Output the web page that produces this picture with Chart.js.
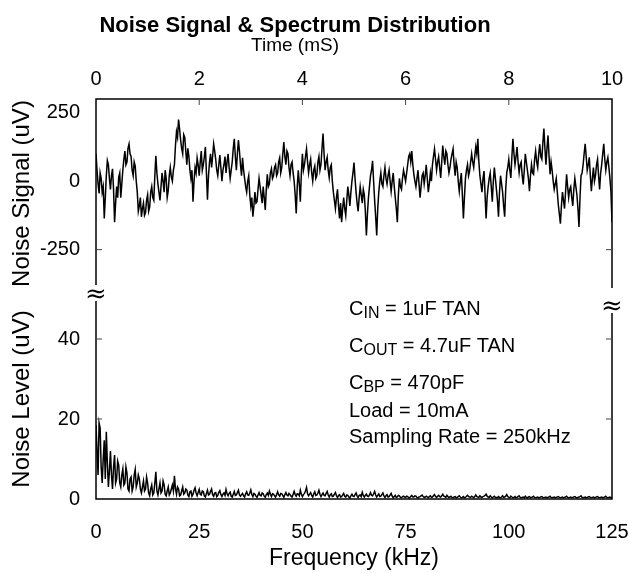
<!DOCTYPE html>
<html>
<head>
<meta charset="utf-8">
<script src="https://cdn.jsdelivr.net/npm/chart.js@4.4.1/dist/chart.umd.min.js"></script>
<style>
  body { margin: 0; background: #fff; }
  #wrap { position: relative; width: 629px; height: 573px; }
  canvas { position: absolute; left: 0; }
  #signal { top: 0; }
  #spectrum { top: 289px; }
  .brk { position: absolute; font: 26px 'DejaVu Serif', serif; line-height: 16px; background: #fff; color: #000; transform: translate(-50%, -50%); }
</style>
</head>
<body>
<div id="wrap">
  <canvas id="signal" width="629" height="288"></canvas>
  <canvas id="spectrum" width="629" height="284"></canvas>
  <span class="brk" style="left:96px;top:293px">≈</span>
  <span class="brk" style="left:612px;top:305px">≈</span>
</div>
<script>
const FONT = "'Liberation Sans', Arial, sans-serif";
Chart.defaults.font.family = FONT;
Chart.defaults.color = '#000';

// noise signal, one sample every 0.02 mS over 0..10 mS (one row = 0.4 mS)
const signalUv = [
  100, 40, -10, -45, 30, 10, -40, -20, -136, -60, 20, 75, 60, 10, -30, 20, 45, -30, -150, -80,
  -20, -60, 15, 30, -60, -10, 40, 80, 110, 60, 70, 120, 136, 100, 90, 40, 20, 70, 55, 0,
  -40, -110, -90, -60, -130, -100, -80, -125, -115, -70, -50, -110, -95, -40, -20, -60, -70, 20, 93, 30,
  -10, -40, -70, -20, 30, 0, -40, 40, 10, -60, -35, 20, 50, 15, 0, 40, 60, 130, 180, 160,
  225, 190, 150, 120, 100, 170, 160, 110, 60, 120, 90, 40, 10, 40, -75, 0, 50, 30, 85, 60,
  20, 70, 110, 40, 60, 90, 125, 30, -68, 20, 70, 100, 50, 90, 136, 110, 80, 40, 20, 60,
  95, 50, 0, 40, 60, 90, 30, 70, 100, 50, 10, 40, 70, 120, 155, 90, 40, 100, 150, 110,
  60, 20, 85, 40, 10, -20, -40, 0, 20, -50, -90, -60, -130, -90, -40, -80, -75, -30, 10, -20,
  -50, -80, -20, -60, -105, -30, 25, -20, -10, 30, 45, 10, 20, 50, 60, 20, 30, 70, 85, 30,
  50, 100, 143, 90, 60, 110, 100, 50, 20, 60, 70, 30, 0, -50, -118, -20, 40, -10, -75, 30,
  100, 40, 60, 90, 118, 70, 30, 60, 80, 30, 0, 40, 55, 10, 20, 70, 90, 40, 60, 120,
  174, 100, 40, 70, 87, 40, 12, 50, 60, 0, -40, -70, -100, -60, -30, -90, -136, -80, -150, -100,
  -60, -100, -125, -70, -20, -50, -90, -40, 0, 30, 68, 10, -40, -80, -110, -60, -20, -50, -80, -30,
  -50, -110, -198, -120, -60, -20, 20, 40, 74, 0, -70, -130, -198, -100, -40, 0, 30, -10, -20, 20,
  50, 10, -10, 20, 40, 0, -37, 0, 30, -20, -60, -100, -150, -50, 10, -20, -30, 10, 40, 20,
  0, 30, 60, 90, 100, 70, 110, 60, 25, 0, -20, 10, 40, -10, -60, -20, 20, 30, -10, 20,
  60, 10, -40, -10, 30, 0, 60, 90, 118, 80, 40, 70, 90, 50, 12, 70, 130, 90, 60, 110,
  100, 60, 30, 50, 80, 100, 118, 60, 20, 70, 50, 0, -37, 0, 30, -50, -136, -60, 10, 40,
  60, 20, 37, 70, 100, 70, 50, 90, 125, 100, 155, 70, 20, -10, -40, 10, 37, -50, -136, -60,
  -20, 10, 30, -20, -75, 0, 50, 10, -30, -70, -130, -40, 20, -10, -40, -90, -130, -30, 30, 50,
  80, 40, 12, 90, 155, 100, 60, 90, 125, 70, 30, 60, 70, 20, -12, 40, 100, 70, 40, 10,
  -37, 20, 60, 30, 25, 80, 110, 70, 50, 100, 135, 90, 80, 140, 192, 120, 60, 120, 167, 90,
  25, 70, 40, 0, -30, -10, 10, -40, -87, -120, -155, -90, -40, -70, -100, -40, 25, -20, -60, -30,
  -20, -60, -90, -30, 10, -20, -50, -100, -167, -60, 20, 30, 60, 100, 136, 90, 40, 60, 87, 20,
  -37, 10, 50, 0, 20, 60, 80, 20, -30, 30, 60, 100, 136, 80, 40, 70, 87, 50, 10, -40,
  -150
];
const timeMax = 10;
const timeTicks = [0, 2, 4, 6, 8, 10];
const signalTicks = [250, 0, -250];

// noise spectrum, one bin every 0.25 kHz over 0..125 kHz (one row = 5 kHz)
const spectrumUv = [
  18.5, 12, 6, 19, 17.7, 8, 4, 10, 14.7, 5, 16.8, 9, 3, 7, 12, 6, 2.5, 8, 11, 4,
  5, 9.5, 8.5, 4, 3, 6, 7.5, 3.5, 4, 8, 6.5, 2.5, 2, 5, 5.5, 2, 3, 6, 7.4, 3,
  4, 6, 5, 2.5, 1.5, 3, 4.5, 2, 2.5, 5.5, 4, 1.5, 0.8, 2.5, 3.5, 1, 1.5, 4, 6.8, 2,
  1, 2.5, 4, 1.5, 2, 4.5, 3.5, 1.2, 0.8, 2, 3, 1, 1.5, 2.5, 3.5, 2, 5.8, 2.5, 1.2, 3,
  2.5, 0.8, 1, 2, 3, 1.2, 1.5, 2.5, 2.2, 1, 0.6, 1.8, 2, 0.7, 1.2, 2.2, 2.8, 1.5, 0.8, 1.6,
  2.4, 1.2, 1, 2, 1.8, 0.8, 0.5, 1.4, 2.2, 1, 1.2, 1.9, 2.5, 1.1, 0.7, 1.5, 1.6, 0.6, 0.9, 1.7,
  2.1, 1.1, 0.6, 1.2, 1.5, 0.9, 2.4, 1.3, 0.8, 1.4, 1.7, 0.7, 0.5, 1.2, 1.9, 0.9, 1, 1.6, 2.2, 1,
  0.7, 1.1, 1.4, 0.8, 0.5, 1.3, 1.8, 1, 0.9, 1.5, 2.3, 1.1, 0.6, 1.4, 1.2, 0.7, 0.4, 1, 1.6, 0.9,
  0.8, 1.5, 1.3, 0.7, 0.4, 1.1, 1.5, 0.9, 2, 1.2, 0.6, 1.3, 1.2, 0.8, 0.5, 1.1, 1.8, 1, 0.7, 1.4,
  1.3, 0.9, 0.4, 1.1, 1.6, 1, 0.8, 1.4, 1.1, 0.7, 0.5, 1.2, 1.9, 1.1, 0.7, 1.3, 1.2, 0.8, 2.2, 1.2,
  0.6, 1.1, 1.4, 2, 2.9, 1.3, 0.8, 1.2, 1.6, 0.9, 0.5, 1.3, 1.8, 0.9, 1, 1.5, 2.2, 1.2, 0.6, 1.1,
  1.5, 0.9, 0.8, 1.4, 1.9, 1, 0.5, 1.1, 1.3, 0.6, 0.7, 1.2, 1.6, 0.8, 0.4, 0.9, 1.1, 0.5, 0.6, 1,
  1.4, 0.7, 0.5, 1, 0.9, 0.5, 0.3, 0.8, 1.2, 0.7, 0.6, 1.1, 1.5, 0.8, 0.4, 0.9, 1, 0.6, 1.7, 0.9,
  0.5, 0.9, 1.2, 0.7, 0.6, 1, 1.6, 0.9, 0.8, 1.3, 1.9, 1, 0.5, 0.9, 1.3, 0.6, 0.7, 1.1, 1.5, 0.8,
  0.4, 0.8, 1.1, 0.5, 0.6, 1, 1.4, 0.7, 0.3, 0.6, 0.9, 0.4, 0.5, 0.9, 0.8, 0.4, 0.3, 0.6, 0.7, 0.5,
  0.4, 0.7, 0.6, 0.3, 0.3, 0.6, 0.9, 0.5, 0.5, 0.8, 0.7, 0.4, 0.3, 0.5, 0.6, 0.8, 1, 0.6, 0.4, 0.5,
  0.7, 0.5, 0.3, 0.6, 0.8, 0.4, 0.5, 0.8, 1.1, 0.6, 0.4, 0.7, 0.9, 0.6, 0.5, 0.8, 1.2, 0.7, 0.6, 0.4,
  0.9, 0.6, 0.4, 0.5, 0.7, 0.4, 0.3, 0.5, 0.6, 0.3, 0.4, 0.6, 0.8, 0.5, 0.3, 0.4, 0.6, 0.3, 0.4, 0.7,
  0.9, 0.6, 0.5, 0.4, 0.7, 0.5, 0.3, 0.6, 1, 0.6, 0.5, 0.4, 0.8, 0.5, 0.4, 0.6, 0.7, 0.9, 1.2, 0.7,
  0.5, 0.4, 0.8, 0.5, 0.3, 0.5, 0.7, 0.4, 0.4, 0.3, 0.6, 0.4, 0.3, 0.5, 0.8, 0.4, 0.5, 0.7, 1.1, 0.6,
  0.4, 0.3, 0.7, 0.5, 0.3, 0.4, 0.6, 0.3, 0.4, 0.6, 0.8, 0.4, 0.3, 0.4, 0.5, 0.3, 0.7, 0.4, 0.3, 0.5,
  0.6, 0.3, 0.4, 0.5, 0.7, 0.4, 0.3, 0.4, 0.5, 0.3, 0.4, 0.5, 0.6, 0.4, 0.3, 0.4, 0.5, 0.3, 0.4, 0.5,
  0.7, 0.4, 0.3, 0.4, 0.5, 0.3, 0.4, 0.5, 0.6, 0.4, 0.3, 0.4, 0.5, 0.3, 0.4, 0.5, 0.7, 0.4, 0.3, 0.4,
  0.5, 0.3, 0.4, 0.5, 0.6, 0.4, 0.3, 0.4, 0.5, 0.6, 0.8, 0.4, 0.3, 0.4, 0.5, 0.3, 0.4, 0.5, 0.6, 0.4,
  0.3, 0.4, 0.5, 0.3, 0.4, 0.5, 0.6, 0.4, 0.3, 0.4, 0.5, 0.3, 0.4, 0.5, 0.7, 0.4, 0.3, 0.4, 0.5, 0.3,
  0.4
];
const freqMax = 125;
const freqTicks = [0, 25, 50, 75, 100, 125];
const levelTicks = [0, 20, 40];

// test conditions box: [main, subscript, rest]
const notes = [
  ['C', 'IN', ' = 1uF TAN'],
  ['C', 'OUT', ' = 4.7uF TAN'],
  ['C', 'BP', ' = 470pF'],
  ['Load = 10mA', '', ''],
  ['Sampling Rate = 250kHz', '', '']
];

const timeStep = timeMax / (signalUv.length - 1);
const freqStep = freqMax / (spectrumUv.length - 1);
const fixTicks = list => s => { s.ticks = list.map(v => ({ value: v })); };
// pin axis size and stop the tick labels from shrinking the plot area
const pinSize = size => s => {
  if (s.isHorizontal()) s.height = size; else s.width = size;
  s.paddingLeft = s.paddingRight = s.paddingTop = s.paddingBottom = 0;
};

// box sides + small inward tick marks
const frame = {
  id: 'frame',
  afterDatasetsDraw(chart, args, opts) {
    const { ctx, chartArea: a } = chart;
    ctx.save();
    ctx.strokeStyle = '#000';
    ctx.lineWidth = 1.5;
    ctx.beginPath();
    if (opts.openBottom) {
      ctx.moveTo(a.left, a.bottom); ctx.lineTo(a.left, a.top);
      ctx.lineTo(a.right, a.top); ctx.lineTo(a.right, a.bottom);
    } else {
      ctx.moveTo(a.left, a.top); ctx.lineTo(a.left, a.bottom);
      ctx.lineTo(a.right, a.bottom); ctx.lineTo(a.right, a.top);
    }
    ctx.stroke();
    ctx.lineWidth = 1;
    ctx.strokeStyle = '#444';
    (opts.marks || []).forEach(m => {
      const s = chart.scales[m.scale];
      m.values.forEach(v => {
        const p = s.getPixelForValue(v);
        ctx.beginPath();
        if (s.isHorizontal()) {
          ctx.moveTo(p, a.top); ctx.lineTo(p, a.top + 6);
        } else {
          ctx.moveTo(a.left, p); ctx.lineTo(a.left + 6, p);
          ctx.moveTo(a.right, p); ctx.lineTo(a.right - 6, p);
        }
        ctx.stroke();
      });
    });
    ctx.restore();
  }
};

const texts = {
  id: 'texts',
  afterDraw(chart, args, opts) {
    const ctx = chart.ctx;
    ctx.save();
    ctx.fillStyle = '#000';
    ctx.textBaseline = 'alphabetic';
    (opts.items || []).forEach(t => {
      ctx.font = t.font;
      ctx.textAlign = 'center';
      ctx.fillText(t.text, t.x, t.y);
    });
    (opts.notes || []).forEach((n, i) => {
      let x = opts.noteX;
      const y = opts.noteY[i];
      ctx.textAlign = 'left';
      ctx.font = '20px ' + FONT;
      ctx.fillText(n[0], x, y);
      x += ctx.measureText(n[0]).width;
      if (n[1]) {
        ctx.font = '16px ' + FONT;
        ctx.fillText(n[1], x, y + 3);
        x += ctx.measureText(n[1]).width;
      }
      ctx.font = '20px ' + FONT;
      ctx.fillText(n[2], x, y);
    });
    ctx.restore();
  }
};

const line = { borderColor: '#000', borderWidth: 1.5, pointRadius: 0, tension: 0 };
const noGrid = { display: false, drawTicks: false };

new Chart(document.getElementById('signal'), {
  type: 'line',
  data: {
    datasets: [{ ...line, data: signalUv.map((v, i) => ({ x: i * timeStep, y: v })) }]
  },
  options: {
    responsive: false,
    animation: false,
    layout: { padding: { left: 0, right: 17, top: 0, bottom: 0 } },
    plugins: {
      legend: { display: false },
      tooltip: { enabled: false },
      frame: { openBottom: true, marks: [{ scale: 'x', values: [2, 4, 6, 8] }, { scale: 'y', values: [-250] }] },
      texts: {
        items: [
          { text: 'Noise Signal & Spectrum Distribution', x: 295, y: 32, font: 'bold 22px ' + FONT },
          { text: 'Time (mS)', x: 295, y: 51, font: '19px ' + FONT }
        ]
      }
    },
    scales: {
      x: {
        type: 'linear', position: 'top', min: 0, max: timeMax,
        afterBuildTicks: fixTicks(timeTicks),
        afterFit: pinSize(99),
        ticks: { font: { size: 20 }, padding: 7.5, maxRotation: 0 },
        grid: noGrid, border: { display: false }
      },
      y: {
        min: -390, max: 300,
        afterBuildTicks: fixTicks(signalTicks),
        afterFit: pinSize(96),
        ticks: { font: { size: 20 }, padding: 16 },
        grid: noGrid, border: { display: false },
        title: { display: true, text: 'Noise Signal (uV)', font: { size: 24 }, padding: { top: 7.6, bottom: 0 } }
      }
    }
  },
  plugins: [frame, texts]
});

new Chart(document.getElementById('spectrum'), {
  type: 'line',
  data: {
    datasets: [{ ...line, data: spectrumUv.map((v, i) => ({ x: i * freqStep, y: v })) }]
  },
  options: {
    responsive: false,
    animation: false,
    layout: { padding: { left: 0, right: 17, top: 10, bottom: 0 } },
    plugins: {
      legend: { display: false },
      tooltip: { enabled: false },
      frame: { openBottom: false, marks: [{ scale: 'y', values: [20, 40] }] },
      texts: { notes: notes, noteX: 349, noteY: [26, 63, 100, 128, 154] }
    },
    scales: {
      x: {
        type: 'linear', position: 'bottom', min: 0, max: freqMax,
        afterBuildTicks: fixTicks(freqTicks),
        afterFit: pinSize(74),
        ticks: { font: { size: 20 }, padding: 21, maxRotation: 0 },
        grid: noGrid, border: { display: false },
        title: { display: true, text: 'Frequency (kHz)', font: { size: 23 }, padding: { top: 0, bottom: 1 } }
      },
      y: {
        min: 0, max: 50,
        afterBuildTicks: fixTicks(levelTicks),
        afterFit: pinSize(96),
        ticks: { font: { size: 20 }, padding: 16 },
        grid: noGrid, border: { display: false },
        title: { display: true, text: 'Noise Level (uV)', font: { size: 24 }, padding: { top: 7.6, bottom: 0 } }
      }
    }
  },
  plugins: [frame, texts]
});
</script>
</body>
</html>
